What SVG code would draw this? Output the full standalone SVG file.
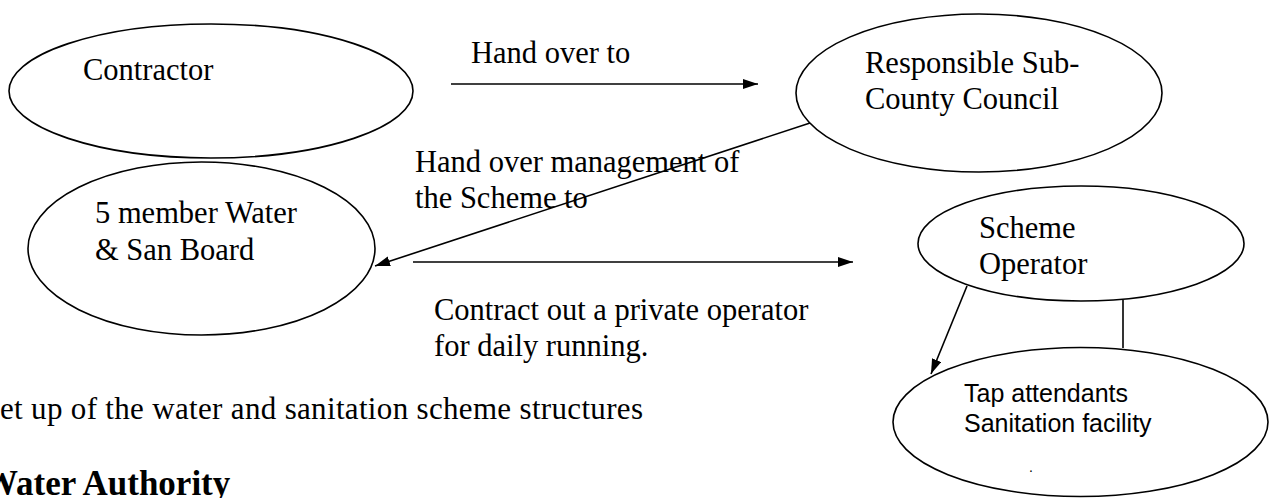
<svg xmlns="http://www.w3.org/2000/svg" width="1269" height="498" viewBox="0 0 1269 498">
<style>
  .node { fill: #ffffff; stroke: #000000; stroke-width: 1.6; }
  .lbl { font-family: "Liberation Serif", "Times New Roman", serif; font-size: 30.5px; fill: #000000; }
  .sans { font-family: "Liberation Sans", Arial, sans-serif; font-size: 25px; fill: #000000; }
  .conn { stroke: #000000; stroke-width: 1.6; fill: none; }
  .bold { font-family: "Liberation Serif", "Times New Roman", serif; font-size: 35px; font-weight: bold; fill: #000000; }
</style>
<defs>
  <marker id="arrow" markerUnits="userSpaceOnUse" markerWidth="16" markerHeight="11" refX="15" refY="5" orient="auto" viewBox="0 0 16 11">
    <path d="M0,0 L15,5 L0,10 z" fill="#000000"/>
  </marker>
</defs>
<rect x="0" y="0" width="1269" height="498" fill="#ffffff"/>

<g id="node-contractor">
  <ellipse class="node" cx="211" cy="91" rx="202" ry="67"/>
  <text class="lbl" x="83" y="80">Contractor</text>
</g>

<g id="node-subcounty">
  <ellipse class="node" cx="979" cy="93" rx="183" ry="79"/>
  <text class="lbl" x="865" y="73">Responsible Sub-</text>
  <text class="lbl" x="865" y="109">County Council</text>
</g>

<g id="node-board">
  <ellipse class="node" cx="201.5" cy="248.5" rx="173.5" ry="86.5"/>
  <text class="lbl" x="95" y="223">5 member Water</text>
  <text class="lbl" x="95" y="260">&amp; San Board</text>
</g>

<g id="node-operator">
  <ellipse class="node" cx="1081" cy="243.5" rx="163" ry="57.5"/>
  <text class="lbl" x="979" y="238">Scheme</text>
  <text class="lbl" x="979" y="274">Operator</text>
</g>

<g id="node-tap">
  <ellipse class="node" cx="1080.5" cy="422" rx="187.5" ry="74.5"/>
  <text class="sans" x="964" y="402">Tap attendants</text>
  <text class="sans" x="964" y="432">Sanitation facility</text>
  <text class="sans" x="1029" y="472" style="font-size:14px">.</text>
</g>

<g id="connectors">
  <line class="conn" x1="451" y1="84" x2="758" y2="84" marker-end="url(#arrow)"/>
  <line class="conn" x1="810" y1="123" x2="375" y2="266" marker-end="url(#arrow)"/>
  <line class="conn" x1="413" y1="262" x2="853" y2="262" marker-end="url(#arrow)"/>
  <line class="conn" x1="967" y1="286" x2="931" y2="374" marker-end="url(#arrow)"/>
  <line class="conn" x1="1123" y1="300" x2="1123" y2="348"/>
</g>

<g id="labels">
  <text class="lbl" x="471" y="63">Hand over to</text>
  <text class="lbl" x="415" y="172">Hand over management of</text>
  <text class="lbl" x="415" y="208">the Scheme to</text>
  <text class="lbl" x="434" y="320">Contract out a private operator</text>
  <text class="lbl" x="434" y="356">for daily running.</text>
  <text class="lbl" x="0" y="419" style="font-size:31px" textLength="643" lengthAdjust="spacing">et up of the water and sanitation scheme structures</text>
  <text class="bold" x="-17" y="495">Water Authority</text>
</g>
</svg>
